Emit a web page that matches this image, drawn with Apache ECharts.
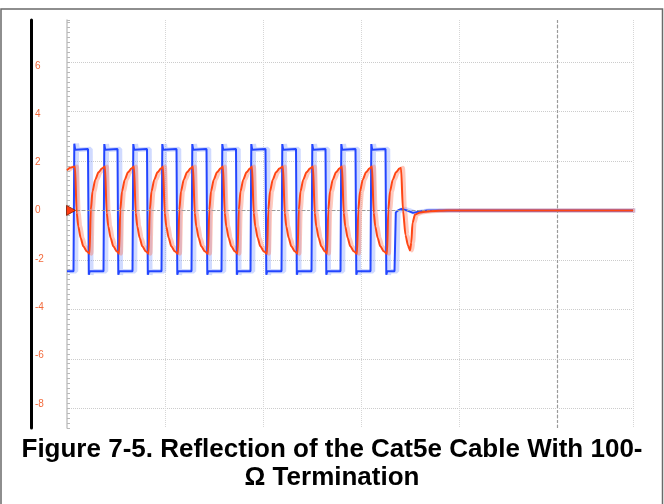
<!DOCTYPE html>
<html>
<head>
<meta charset="utf-8">
<script src="https://cdn.jsdelivr.net/npm/echarts@6/dist/echarts.min.js"></script>
<style>
html,body{margin:0;padding:0;background:#fff;}
#chart{width:664px;height:504px;}
</style>
</head>
<body>
<div id="chart"></div>
<script>
// Time axis in screen-division units (one division = 98), voltage in V.
const captionLines = ['Figure 7-5. Reflection of the Cat5e Cable With 100-', 'Ω Termination'];
const yTickValues = [-8, -6, -4, -2, 0, 2, 4, 6];

// Transmitted signal (blue), [time, volts]
const blueWave = [
  [0,-2.46],[6.5,-2.46],[7.3,2.7],[8.2,2.45],[21,2.48],[21.8,-2.6],[22.7,-2.46],
  [36.5,-2.46],[37.3,2.68],[38.2,2.45],[50.5,2.48],[51.3,-2.6],[52.2,-2.46],
  [65.5,-2.46],[66.3,2.68],[67.2,2.45],[80,2.48],[80.8,-2.6],[81.7,-2.46],
  [94.5,-2.46],[95.3,2.68],[96.2,2.45],[109.5,2.48],[110.3,-2.6],[111.2,-2.46],
  [124.5,-2.46],[125.3,2.68],[126.2,2.45],[139.5,2.48],[140.3,-2.6],[141.2,-2.46],
  [154.5,-2.46],[155.3,2.68],[156.2,2.45],[169,2.48],[169.8,-2.6],[170.7,-2.46],
  [183.5,-2.46],[184.3,2.68],[185.2,2.45],[198.5,2.48],[199.3,-2.6],[200.2,-2.46],
  [214.5,-2.46],[215.3,2.68],[216.2,2.45],[229,2.48],[229.8,-2.6],[230.7,-2.46],
  [244.5,-2.46],[245.3,2.68],[246.2,2.45],[258.5,2.48],[259.3,-2.6],[260.2,-2.46],
  [273.5,-2.46],[274.3,2.68],[275.2,2.45],[288.5,2.48],[289.3,-2.6],[290.2,-2.46],
  [303.5,-2.46],[304.3,2.68],[305.2,2.45],[318.5,2.48],[319.3,-2.6],[320.2,-2.46],
  [327.5,-2.46],[328.8,-0.08],[331,0.0],[334.5,0.06],[340,0.0],[346,-0.1],[353,-0.04],[360,0],[566,0]
];

// Reflected signal (orange), [time, volts]
const orangeWave = [
  [0,1.62],[3,1.72],
  [8,1.78],[9.7,-0.1],[11.3,-0.65],[13.7,-1.12],[16.3,-1.45],[19.7,-1.65],[22.5,-1.75],[23.8,0.03],[25.5,0.77],[28.2,1.24],[31.5,1.54],[34.9,1.69],
  [38,1.78],[39.7,-0.1],[41.3,-0.65],[43.7,-1.12],[46.3,-1.45],[49.7,-1.65],[52,-1.75],[53.3,0.03],[55,0.77],[57.7,1.24],[61,1.54],[64.4,1.69],
  [67,1.78],[68.7,-0.1],[70.3,-0.65],[72.7,-1.12],[75.3,-1.45],[78.7,-1.65],[81.5,-1.75],[82.8,0.03],[84.5,0.77],[87.2,1.24],[90.5,1.54],[93.9,1.69],
  [96,1.78],[97.7,-0.1],[99.3,-0.65],[101.7,-1.12],[104.3,-1.45],[107.7,-1.65],[111,-1.75],[112.3,0.03],[114,0.77],[116.7,1.24],[120,1.54],[123.4,1.69],
  [126,1.78],[127.7,-0.1],[129.3,-0.65],[131.7,-1.12],[134.3,-1.45],[137.7,-1.65],[141,-1.75],[142.3,0.03],[144,0.77],[146.7,1.24],[150,1.54],[153.4,1.69],
  [156,1.78],[157.7,-0.1],[159.3,-0.65],[161.7,-1.12],[164.3,-1.45],[167.7,-1.65],[170.5,-1.75],[171.8,0.03],[173.5,0.77],[176.2,1.24],[179.5,1.54],[182.9,1.69],
  [185,1.78],[186.7,-0.1],[188.3,-0.65],[190.7,-1.12],[193.3,-1.45],[196.7,-1.65],[200,-1.75],[201.3,0.03],[203,0.77],[205.7,1.24],[209,1.54],[212.4,1.69],
  [216,1.78],[217.7,-0.1],[219.3,-0.65],[221.7,-1.12],[224.3,-1.45],[227.7,-1.65],[230.5,-1.75],[231.8,0.03],[233.5,0.77],[236.2,1.24],[239.5,1.54],[242.9,1.69],
  [246,1.78],[247.7,-0.1],[249.3,-0.65],[251.7,-1.12],[254.3,-1.45],[257.7,-1.65],[260,-1.75],[261.3,0.03],[263,0.77],[265.7,1.24],[269,1.54],[272.4,1.69],
  [275,1.78],[276.7,-0.1],[278.3,-0.65],[280.7,-1.12],[283.3,-1.45],[286.7,-1.65],[290,-1.75],[291.3,0.03],[293,0.77],[295.7,1.24],[299,1.54],[302.4,1.69],
  [305,1.78],[306.7,-0.1],[308.3,-0.65],[310.7,-1.12],[313.3,-1.45],[316.7,-1.65],[320,-1.75],[321.3,0.03],[323,0.77],[325.7,1.24],[329,1.54],[332.4,1.69],
  [334,1.72],[336,0],[338.5,-1.0],[341,-1.42],[343,-1.62],[344.3,-1.3],[345.5,-0.5],[348,-0.17],[353,-0.08],[363,-0.03],[380,0],[566,0]
];

const triggerTime = 490;
const zeroLevel = 0;

const chart = echarts.init(document.getElementById('chart'), null, {renderer: 'canvas'});

const Y_MIN = -8.8, Y_MAX = 7.7;

const captionStyle = {
  fontFamily: 'Liberation Sans, Arial, sans-serif',
  fontWeight: 'bold',
  fontSize: 26,
  fill: '#000'
};

const option = {
  animation: false,
  backgroundColor: '#ffffff',
  graphic: [
    {
      type: 'rect',
      shape: {x: 1, y: 9, width: 661.5, height: 520},
      style: {fill: null, stroke: '#6a6a6a', lineWidth: 1.5},
      z: 100, silent: true
    },
    {
      type: 'text', left: 'center', top: 437, silent: true,
      style: Object.assign({text: captionLines[0]}, captionStyle)
    },
    {
      type: 'text', left: 'center', top: 465, silent: true,
      style: Object.assign({text: captionLines[1]}, captionStyle)
    }
  ],
  grid: {left: 67, right: 31, top: 20, bottom: 76},
  xAxis: [
    {
      type: 'value', min: 0, max: 566, interval: 98,
      axisLine: {show: false}, axisTick: {show: false}, axisLabel: {show: false},
      splitLine: {show: true, showMinLine: false, lineStyle: {color: '#d6d6d6', type: 'dotted', width: 1}}
    },
    { type: 'value', min: -2.5, max: 563.5, show: false, splitLine: {show: false} },
    { type: 'value', min: -2, max: 564, show: false, splitLine: {show: false} }
  ],
  yAxis: [
    {
      type: 'value', min: Y_MIN, max: Y_MAX, minInterval: 2, maxInterval: 2, splitNumber: 8,
      axisLine: {show: true, onZero: false, lineStyle: {color: '#c4c4c4', width: 1.5}},
      axisTick: {show: false}, axisLabel: {show: false},
      splitLine: {show: true, showMinLine: false, showMaxLine: false, lineStyle: {color: '#cccccc', type: 'dotted', width: 1}}
    },
    {
      type: 'value', min: Y_MIN, max: Y_MAX, interval: 0.2, position: 'left',
      axisLine: {show: false},
      axisTick: {show: true, inside: true, length: 3, lineStyle: {color: '#b8b8b8', width: 1}},
      axisLabel: {show: false}, splitLine: {show: false}
    },
    {
      type: 'value', min: -9, max: 7.9, minInterval: 2, maxInterval: 2, splitNumber: 8,
      position: 'left', offset: 36,
      axisLine: {show: true, onZero: false, lineStyle: {color: '#000', width: 3}},
      axisTick: {show: false},
      axisLabel: {
        show: true, inside: true, margin: 4,
        color: '#f26a3c', fontSize: 10, fontFamily: 'Liberation Sans, Arial, sans-serif',
        formatter: function (v) { return yTickValues.indexOf(v) >= 0 ? String(v) : ''; }
      },
      splitLine: {show: false}
    }
  ],
  series: [
    {
      name: 'refs', type: 'line', data: [], silent: true, z: 1,
      markLine: {
        silent: true, symbol: 'none', label: {show: false},
        lineStyle: {color: '#9a9a9a', type: [3, 2], width: 1.2},
        data: [{xAxis: triggerTime}, {yAxis: zeroLevel}]
      }
    },
    {
      name: 'blueGhost', type: 'line', xAxisIndex: 1, data: blueWave, showSymbol: false, z: 2,
      lineStyle: {color: 'rgba(110,140,255,0.32)', width: 4.5}
    },
    {
      name: 'orangeGhost', type: 'line', xAxisIndex: 2, data: orangeWave, showSymbol: false, z: 3,
      smooth: 0.25, smoothMonotone: 'x',
      lineStyle: {color: 'rgba(255,120,90,0.4)', width: 4}
    },
    {
      name: 'blue', type: 'line', data: blueWave, showSymbol: false, z: 4,
      lineStyle: {color: '#2346ff', width: 2}
    },
    {
      name: 'orange', type: 'line', data: orangeWave, showSymbol: false, z: 5,
      smooth: 0.25, smoothMonotone: 'x',
      lineStyle: {color: '#ff4614', width: 2},
      markPoint: {
        silent: true,
        symbol: 'triangle', symbolSize: [10, 9], symbolRotate: -90, symbolOffset: [4, 0],
        label: {show: false},
        itemStyle: {color: '#ff3c10', borderColor: '#7a1800', borderWidth: 0.8},
        data: [{coord: [0, zeroLevel]}]
      }
    }
  ]
};
chart.setOption(option);
</script>
</body>
</html>
